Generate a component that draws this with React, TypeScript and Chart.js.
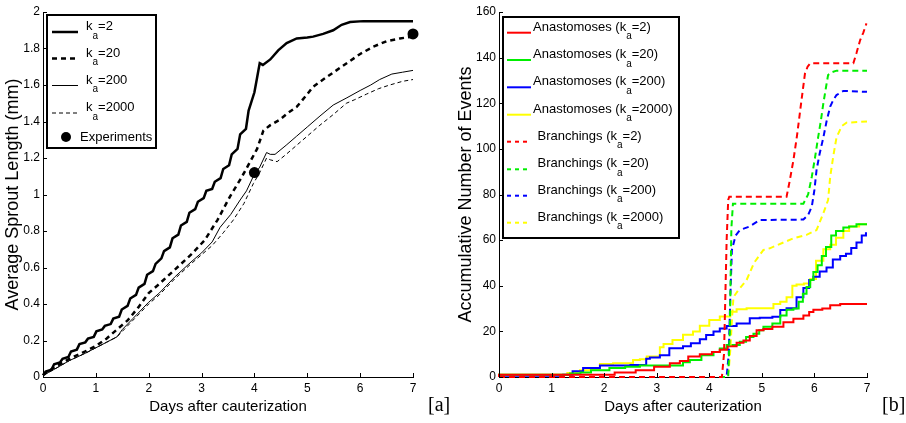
import React, { useEffect, useRef } from 'react';
import { Chart, registerables } from 'chart.js';
Chart.register(...registerables);

const FONT = '"Liberation Sans", Arial, Helvetica, sans-serif';

// ---------- Panel [a]: Average sprout length ----------
const xTicks = [0, 1, 2, 3, 4, 5, 6, 7];
const yTicksA = [0, 0.2, 0.4, 0.6, 0.8, 1, 1.2, 1.4, 1.6, 1.8, 2];

const k2Days = [0, 0.05, 0.16, 0.21, 0.32, 0.37, 0.48, 0.53, 0.64, 0.69, 0.80, 0.85, 0.96, 1.01, 1.12, 1.17, 1.28, 1.33, 1.44, 1.49, 1.60, 1.65, 1.76, 1.81, 1.92, 1.97, 2.08, 2.13, 2.24, 2.29, 2.40, 2.45, 2.56, 2.61, 2.72, 2.77, 2.88, 2.93, 3.04, 3.09, 3.20, 3.25, 3.36, 3.41, 3.52, 3.57, 3.68, 3.73, 3.84, 3.89, 4.00, 4.05, 4.10, 4.16, 4.30, 4.45, 4.61, 4.80, 5.00, 5.11, 5.30, 5.49, 5.65, 5.81, 6.06, 7.00];
const k2Len = [0.01, 0.03, 0.04, 0.07, 0.08, 0.10, 0.11, 0.14, 0.15, 0.18, 0.19, 0.21, 0.22, 0.25, 0.26, 0.28, 0.29, 0.32, 0.33, 0.37, 0.39, 0.43, 0.45, 0.49, 0.51, 0.56, 0.58, 0.62, 0.65, 0.69, 0.71, 0.76, 0.78, 0.83, 0.85, 0.90, 0.92, 0.96, 0.98, 1.02, 1.03, 1.07, 1.09, 1.14, 1.16, 1.22, 1.25, 1.33, 1.36, 1.46, 1.56, 1.64, 1.72, 1.71, 1.74, 1.79, 1.83, 1.855, 1.86, 1.865, 1.88, 1.90, 1.93, 1.945, 1.95, 1.95];

const k20Days = [0, 0.2, 0.5, 0.8, 1.0, 1.2, 1.4, 1.6, 1.8, 2.0, 2.2, 2.5, 2.8, 3.06, 3.3, 3.54, 3.75, 3.92, 4.05, 4.17, 4.3, 4.48, 4.65, 4.8, 5.0, 5.11, 5.3, 5.55, 5.8, 6.0, 6.25, 6.5, 6.75, 7.0];
const k20Len = [0.01, 0.05, 0.10, 0.14, 0.17, 0.21, 0.26, 0.31, 0.38, 0.46, 0.51, 0.59, 0.67, 0.75, 0.86, 0.99, 1.09, 1.18, 1.25, 1.35, 1.38, 1.41, 1.45, 1.48, 1.55, 1.59, 1.63, 1.68, 1.73, 1.77, 1.81, 1.84, 1.855, 1.865];

const k200Days = [0, 0.2, 0.5, 0.8, 1.0, 1.2, 1.4, 1.5, 1.7, 2.0, 2.2, 2.5, 2.8, 3.0, 3.2, 3.35, 3.55, 3.73, 3.85, 3.98, 4.1, 4.23, 4.3, 4.39, 4.6, 4.8, 5.0, 5.24, 5.49, 5.75, 6.0, 6.2, 6.37, 6.6, 6.8, 7.0];
const k200Len = [0.01, 0.04, 0.09, 0.13, 0.16, 0.19, 0.22, 0.26, 0.32, 0.41, 0.46, 0.55, 0.63, 0.68, 0.74, 0.82, 0.89, 0.97, 1.02, 1.10, 1.15, 1.23, 1.22, 1.22, 1.27, 1.32, 1.37, 1.43, 1.49, 1.53, 1.57, 1.60, 1.63, 1.66, 1.67, 1.68];

const k2000Days = [0, 0.2, 0.5, 0.8, 1.0, 1.2, 1.4, 1.5, 1.7, 2.0, 2.2, 2.5, 2.8, 3.0, 3.2, 3.41, 3.6, 3.8, 3.98, 4.1, 4.23, 4.3, 4.43, 4.6, 4.8, 5.0, 5.24, 5.5, 5.74, 5.9, 6.12, 6.35, 6.56, 6.8, 7.0];
const k2000Len = [0.01, 0.04, 0.09, 0.13, 0.16, 0.19, 0.22, 0.25, 0.31, 0.40, 0.45, 0.54, 0.62, 0.67, 0.72, 0.79, 0.86, 0.95, 1.06, 1.12, 1.20, 1.19, 1.18, 1.22, 1.27, 1.32, 1.38, 1.44, 1.50, 1.52, 1.55, 1.58, 1.60, 1.62, 1.63];

const expDays = [4, 7];
const expLen = [1.12, 1.88];

// ---------- Panel [b]: Accumulative number of events ----------
const yTicksB = [0, 20, 40, 60, 80, 100, 120, 140, 160];

const anaK2Days = [0, 2.20, 2.60, 2.95, 3.25, 3.44, 3.60, 3.82, 4.05, 4.20, 4.35, 4.52, 4.65, 4.77, 4.90, 5.03, 5.20, 5.41, 5.60, 5.79, 5.90, 5.98, 6.15, 6.30, 6.49, 6.60, 7.00];
const anaK2 = [0, 1, 2, 3, 4.5, 6, 7, 9, 10, 11, 12, 13.5, 15, 16, 18, 20.5, 21, 22, 24, 25.5, 27, 28.5, 29.5, 30, 31.5, 32, 32];

const anaK20Days = [0, 1.35, 1.55, 1.75, 2.10, 2.40, 2.68, 2.90, 3.50, 3.63, 3.85, 4.08, 4.20, 4.33, 4.58, 4.70, 4.84, 4.95, 5.03, 5.20, 5.35, 5.47, 5.60, 5.70, 5.78, 5.85, 5.92, 5.98, 6.06, 6.14, 6.22, 6.32, 6.41, 6.55, 6.66, 6.80, 6.98, 7.0];
const anaK20 = [0, 1, 1.5, 2, 3, 4, 4.5, 5, 5, 6.5, 7.5, 9.5, 11, 12.5, 14, 15.5, 17.5, 19, 20.5, 22, 23.5, 27, 29.5, 30, 33, 36.5, 39.5, 42.5, 46, 49, 53, 57, 62, 64, 65.5, 66, 67, 67];

const anaK200Days = [0, 1.22, 1.40, 1.60, 1.92, 2.17, 2.50, 2.80, 2.87, 3.06, 3.24, 3.50, 3.65, 3.82, 3.94, 4.08, 4.20, 4.33, 4.52, 4.77, 4.96, 5.20, 5.35, 5.47, 5.66, 5.79, 5.90, 5.98, 6.10, 6.23, 6.35, 6.49, 6.60, 6.70, 6.80, 6.90, 6.98, 7.0];
const anaK200 = [0, 0.5, 1, 2.5, 4, 5, 5, 5.3, 8, 8.5, 9.5, 12.6, 13.5, 14.8, 16.5, 18.4, 20, 21.3, 22.4, 23.5, 25.7, 26, 26.4, 29.4, 30.1, 35, 39, 42.5, 44, 46.2, 48, 51.5, 53, 54, 56.5, 59, 62, 63];

const anaK2000Days = [0, 1.30, 1.41, 1.54, 1.73, 1.92, 2.17, 2.55, 2.68, 2.81, 3.06, 3.13, 3.30, 3.50, 3.69, 3.82, 4.00, 4.20, 4.40, 4.52, 4.71, 5.22, 5.35, 5.47, 5.58, 5.66, 5.80, 5.92, 6.03, 6.17, 6.30, 6.41, 6.55, 6.66, 6.85, 7.0];
const anaK2000 = [0, 1, 1.8, 2.3, 3, 3.4, 5.7, 6, 7.5, 7.8, 9, 13, 14.5, 16.2, 18.5, 20, 22.5, 25, 26.5, 28.6, 29.7, 30.1, 32, 33, 35, 40, 40.5, 41, 43, 51, 56, 58, 61, 64, 66, 67];

const brK2Days = [0, 4.24, 4.28, 4.33, 4.36, 4.38, 5.47, 5.53, 5.60, 5.67, 5.73, 5.78, 5.82, 5.87, 5.92, 6.74, 6.80, 6.87, 6.93, 6.99];
const brK2 = [0, 0, 10, 60, 77.6, 79, 79, 86, 95, 106, 117, 126, 133, 136, 137.5, 137.5, 142, 147.7, 151, 155];

const brK20Days = [0, 4.36, 4.39, 4.42, 4.45, 5.79, 5.88, 5.95, 6.01, 6.07, 6.12, 6.17, 6.22, 6.26, 6.32, 6.42, 7.0];
const brK20 = [0, 0, 20, 65, 76, 76, 80, 87.8, 96, 105, 112, 120, 127, 132.4, 133.5, 134.3, 134.3];

const brK200Days = [0, 4.33, 4.37, 4.40, 4.43, 4.50, 4.58, 4.77, 4.96, 5.79, 5.88, 5.95, 6.00, 6.04, 6.10, 6.17, 6.23, 6.30, 6.36, 6.42, 6.55, 7.0];
const brK200 = [0, 0, 10, 35, 55.7, 62, 64.4, 66, 68.8, 69, 71, 74.7, 82, 90.7, 98, 105, 112, 118.5, 121.5, 123.6, 125.4, 125];

const brK2000Days = [0, 4.34, 4.37, 4.40, 4.43, 4.46, 4.55, 4.71, 4.85, 5.03, 5.15, 5.60, 5.85, 6.04, 6.17, 6.26, 6.30, 6.36, 6.42, 6.52, 6.61, 7.0];
const brK2000 = [0, 0, 3, 12, 25, 35, 38, 42.5, 50, 55.7, 56.4, 60.8, 62.3, 64.4, 71.8, 77.6, 87.8, 97, 105, 110, 111.5, 112];

const kValues = ['2', '20', '200', '2000'];

// ---------- helpers ----------
const pts = (xs: number[], ys: number[]) => xs.map((x, i) => ({ x, y: ys[i] }));

const inwardTicks = {
  id: 'inwardTicks',
  afterDatasetsDraw(chart: any) {
    const { ctx, chartArea, scales } = chart;
    ctx.save();
    ctx.strokeStyle = '#000';
    ctx.lineWidth = 1;
    ctx.setLineDash([]);
    scales.x.ticks.forEach((t: any) => {
      const px = Math.round(scales.x.getPixelForValue(t.value)) + 0.5;
      ctx.beginPath();
      ctx.moveTo(px, chartArea.bottom);
      ctx.lineTo(px, chartArea.bottom - 4);
      ctx.stroke();
    });
    scales.y.ticks.forEach((t: any) => {
      const py = Math.round(scales.y.getPixelForValue(t.value)) + 0.5;
      ctx.beginPath();
      ctx.moveTo(chartArea.left, py);
      ctx.lineTo(chartArea.left + 4, py);
      ctx.stroke();
    });
    ctx.restore();
  },
};

const subLegend = {
  id: 'subLegend',
  afterDraw(chart: any, _args: any, opts: any) {
    if (!opts || !opts.box) return;
    const ctx = chart.ctx;
    const [x1, y1, x2, y2] = opts.box;
    ctx.save();
    ctx.fillStyle = '#fff';
    ctx.fillRect(x1, y1, x2 - x1, y2 - y1);
    ctx.lineWidth = 2;
    ctx.strokeStyle = '#000';
    ctx.setLineDash([]);
    ctx.strokeRect(x1, y1, x2 - x1, y2 - y1);
    opts.items.forEach((it: any) => {
      const y = it.y;
      if (it.marker) {
        ctx.beginPath();
        ctx.fillStyle = '#000';
        ctx.arc(it.mx, y, 5, 0, Math.PI * 2);
        ctx.fill();
        ctx.font = `13px ${FONT}`;
        ctx.textBaseline = 'middle';
        ctx.fillText(it.pre, it.tx, y);
        return;
      }
      ctx.beginPath();
      ctx.setLineDash(it.dash || []);
      ctx.lineWidth = it.width;
      ctx.strokeStyle = it.color;
      ctx.moveTo(opts.lx1, y);
      ctx.lineTo(opts.lx2, y);
      ctx.stroke();
      ctx.setLineDash([]);
      ctx.fillStyle = '#000';
      ctx.textBaseline = 'alphabetic';
      let x = it.tx;
      ctx.font = `13px ${FONT}`;
      ctx.fillText(it.pre, x, y - 2);
      x += ctx.measureText(it.pre).width;
      ctx.font = `10px ${FONT}`;
      ctx.fillText(it.sub, x, y + 6.5);
      x += ctx.measureText(it.sub).width;
      ctx.font = `13px ${FONT}`;
      ctx.fillText(it.post, x, y - 2);
    });
    ctx.restore();
  },
};

const tickFont = { family: FONT, size: 12 };

function makeScales(yMax: number, yTicks: number[], yTitle: string, yWidth: number, yTitlePad: number) {
  return {
    x: {
      type: 'linear' as const,
      min: 0,
      max: 7,
      afterBuildTicks: (s: any) => { s.ticks = xTicks.map((v) => ({ value: v })); },
      afterFit: (s: any) => { s.height = 46; },
      grid: { display: true, drawOnChartArea: false, drawTicks: false },
      border: { display: true, color: '#000', width: 1 },
      ticks: { color: '#000', font: tickFont, padding: 4, maxRotation: 0, autoSkip: false, callback: (v: any) => String(v) },
      title: { display: true, text: 'Days after cauterization', color: '#000', font: { family: FONT, size: 15 }, padding: { top: 0, bottom: 7 } },
    },
    y: {
      type: 'linear' as const,
      min: 0,
      max: yMax,
      afterBuildTicks: (s: any) => { s.ticks = yTicks.map((v) => ({ value: v })); },
      afterFit: (s: any) => { s.width = yWidth; },
      grid: { display: true, drawOnChartArea: false, drawTicks: false },
      border: { display: true, color: '#000', width: 1 },
      ticks: { color: '#000', font: tickFont, padding: 3, autoSkip: false, callback: (v: any) => String(v) },
      title: { display: true, text: yTitle, color: '#000', font: { family: FONT, size: 18 }, padding: { top: yTitlePad, bottom: 0 } },
    },
  };
}

const line = (data: any, color: string, width: number, dash: number[], extra: any = {}) => ({
  data,
  borderColor: color,
  backgroundColor: color,
  borderWidth: width,
  borderDash: dash,
  pointRadius: 0,
  tension: 0,
  fill: false,
  clip: false,
  ...extra,
});

export default function App() {
  const refA = useRef<HTMLCanvasElement>(null);
  const refB = useRef<HTMLCanvasElement>(null);

  useEffect(() => {
    const chartA = new Chart(refA.current as HTMLCanvasElement, {
      type: 'line',
      data: {
        datasets: [
          line(pts(k2Days, k2Len), '#000', 2.5, []),
          line(pts(k20Days, k20Len), '#000', 2.5, [5, 4]),
          line(pts(k200Days, k200Len), '#000', 1, []),
          line(pts(k2000Days, k2000Len), '#000', 1, [4, 3]),
          line(pts(expDays, expLen), '#000', 1, [], { showLine: false, pointRadius: 5.5, pointBackgroundColor: '#000', pointBorderWidth: 0 }),
        ],
      },
      options: {
        responsive: false,
        animation: false,
        devicePixelRatio: 1,
        layout: { padding: { top: 12, right: 37, left: 0, bottom: 0 } },
        scales: makeScales(2, yTicksA, 'Average Sprout Length (mm)', 43, 2) as any,
        plugins: {
          legend: { display: false },
          tooltip: { enabled: false },
          subLegend: {
            box: [47, 15, 156, 148],
            lx1: 52,
            lx2: 78,
            items: [
              { y: 32, pre: 'k', sub: 'a', post: '=' + kValues[0], color: '#000', width: 2.5, dash: [], tx: 86 },
              { y: 58.5, pre: 'k', sub: 'a', post: '=' + kValues[1], color: '#000', width: 2.5, dash: [5, 4], tx: 86 },
              { y: 85.5, pre: 'k', sub: 'a', post: '=' + kValues[2], color: '#000', width: 1, dash: [], tx: 86 },
              { y: 113, pre: 'k', sub: 'a', post: '=' + kValues[3], color: '#000', width: 1, dash: [4, 3], tx: 86 },
              { y: 137, marker: true, mx: 66, pre: 'Experiments', tx: 80 },
            ],
          },
        } as any,
      },
      plugins: [inwardTicks, subLegend],
    });

    const colors = ['#ff0000', '#00ee00', '#0000ff', '#ffff00'];
    const anaSeries = [pts(anaK2Days, anaK2), pts(anaK20Days, anaK20), pts(anaK200Days, anaK200), pts(anaK2000Days, anaK2000)];
    const brSeries = [pts(brK2Days, brK2), pts(brK20Days, brK20), pts(brK200Days, brK200), pts(brK2000Days, brK2000)];
    const legendYs = [32.7, 60, 87.3, 114.7, 141.7, 169.3, 195.7, 222.7];

    const chartB = new Chart(refB.current as HTMLCanvasElement, {
      type: 'line',
      data: {
        datasets: [
          ...anaSeries.map((d, i) => line(d, colors[i], 2, [], { stepped: 'after', order: 1 })),
          ...brSeries.map((d, i) => line(d, colors[i], 2, [6, 4], { order: 0 })),
        ],
      },
      options: {
        responsive: false,
        animation: false,
        devicePixelRatio: 1,
        layout: { padding: { top: 12, right: 39, left: 0, bottom: 0 } },
        scales: makeScales(160, yTicksB, 'Accumulative Number of Events', 49, 5) as any,
        plugins: {
          legend: { display: false },
          tooltip: { enabled: false },
          subLegend: {
            box: [503 - 450, 17, 679 - 450, 238],
            lx1: 507 - 450,
            lx2: 531 - 450,
            items: [
              ...kValues.map((k, i) => ({ y: legendYs[i], pre: 'Anastomoses (k', sub: 'a', post: '=' + k + ')', color: colors[i], width: 2, dash: [], tx: 533 - 450 })),
              ...kValues.map((k, i) => ({ y: legendYs[i + 4], pre: 'Branchings (k', sub: 'a', post: '=' + k + ')', color: colors[i], width: 2, dash: [4, 4], tx: 537.5 - 450 })),
            ],
          },
        } as any,
      },
      plugins: [inwardTicks, subLegend],
    });

    return () => {
      chartA.destroy();
      chartB.destroy();
    };
  }, []);

  const labelStyle: React.CSSProperties = {
    position: 'absolute',
    top: 392,
    font: '20px "Liberation Serif", "DejaVu Serif", serif',
    color: '#000',
    lineHeight: '24px',
  };

  return (
    <div style={{ position: 'absolute', left: 0, top: 0, width: 906, height: 423, background: '#fff', overflow: 'hidden' }}>
      <canvas ref={refA} width={450} height={423} style={{ position: 'absolute', left: 0, top: 0, width: 450, height: 423 }} />
      <canvas ref={refB} width={456} height={423} style={{ position: 'absolute', left: 450, top: 0, width: 456, height: 423 }} />
      <span style={{ ...labelStyle, left: 428 }}>[a]</span>
      <span style={{ ...labelStyle, left: 882 }}>[b]</span>
    </div>
  );
}
